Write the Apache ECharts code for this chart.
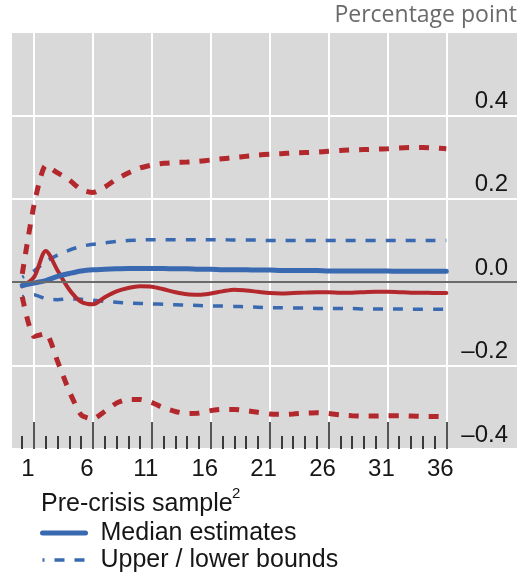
<!DOCTYPE html>
<html>
<head>
<meta charset="utf-8">
<script src="https://cdn.jsdelivr.net/npm/echarts@6/dist/echarts.min.js"></script>
<style>
  html, body { margin: 0; padding: 0; background: #ffffff; }
  #chart { width: 522px; height: 579px; }
</style>
</head>
<body>
<div id="chart"></div>
<script>
// Horizon (months after the shock)
const horizon = [0, 1, 2, 3, 4, 5, 6, 7, 8, 9, 10, 11, 12, 13, 14, 15, 16, 17, 18,
  19, 20, 21, 22, 23, 24, 25, 26, 27, 28, 29, 30, 31, 32, 33, 34, 35, 36];

// Pre-crisis sample: median and bounds
const preMedian = [-0.008, -0.002, 0.004, 0.014, 0.021, 0.027, 0.030, 0.031, 0.032, 0.033,
  0.033, 0.033, 0.033, 0.032, 0.032, 0.031, 0.031, 0.030, 0.030, 0.030, 0.029, 0.029,
  0.028, 0.028, 0.028, 0.028, 0.027, 0.027, 0.027, 0.027, 0.027, 0.027, 0.026, 0.026,
  0.026, 0.026, 0.026];
const preUpper = [0.012, 0.027, 0.050, 0.065, 0.077, 0.086, 0.091, 0.094, 0.098, 0.100,
  0.101, 0.102, 0.102, 0.102, 0.102, 0.102, 0.102, 0.102, 0.101, 0.101, 0.101, 0.100,
  0.100, 0.100, 0.100, 0.100, 0.100, 0.100, 0.100, 0.100, 0.100, 0.100, 0.100, 0.100,
  0.100, 0.100, 0.100];
const preLower = [-0.035, -0.030, -0.040, -0.042, -0.040, -0.041, -0.043, -0.046, -0.048,
  -0.050, -0.051, -0.052, -0.053, -0.054, -0.055, -0.056, -0.057, -0.057, -0.058, -0.059,
  -0.060, -0.061, -0.061, -0.062, -0.062, -0.063, -0.063, -0.063, -0.063, -0.064, -0.064,
  -0.064, -0.064, -0.065, -0.065, -0.065, -0.065];

// Post-crisis sample: median and bounds
const postMedian = [-0.010, 0.012, 0.075, 0.028, -0.018, -0.047, -0.053, -0.036, -0.022,
  -0.014, -0.010, -0.011, -0.017, -0.024, -0.029, -0.030, -0.027, -0.022, -0.018, -0.020,
  -0.023, -0.026, -0.027, -0.026, -0.025, -0.024, -0.024, -0.025, -0.025, -0.024, -0.023,
  -0.023, -0.024, -0.025, -0.025, -0.026, -0.026];
const postUpper = [0.020, 0.185, 0.280, 0.262, 0.245, 0.222, 0.215, 0.228, 0.247, 0.262,
  0.274, 0.281, 0.285, 0.287, 0.288, 0.290, 0.293, 0.296, 0.299, 0.302, 0.305, 0.307,
  0.308, 0.310, 0.311, 0.312, 0.314, 0.316, 0.317, 0.318, 0.319, 0.320, 0.322, 0.323,
  0.323, 0.322, 0.320];
const postLower = [-0.035, -0.130, -0.123, -0.190, -0.262, -0.318, -0.328, -0.310, -0.290,
  -0.281, -0.281, -0.289, -0.301, -0.310, -0.315, -0.314, -0.308, -0.305, -0.305, -0.308,
  -0.312, -0.316, -0.317, -0.316, -0.314, -0.313, -0.315, -0.318, -0.320, -0.321, -0.321,
  -0.320, -0.320, -0.321, -0.322, -0.322, -0.323];

// Axis ticks and labels
const xMinorTicks = horizon;
const xMajorTicks = [1, 6, 11, 16, 21, 26, 31, 36];
const yTickValues = [-0.4, -0.2, 0.0, 0.2, 0.4];
const yTickLabels = ['\u20130.4', '\u20130.2', '0.0', '0.2', '0.4'];

const BLUE = '#396ab1';
const RED = '#b3282d';
const TEXT = '#161616';
const FONT = '"Liberation Sans", Arial, sans-serif';

const pairs = (ys) => horizon.map((x, i) => [x, ys[i]]);

const xBase = {
  type: 'value', min: -0.87, max: 42, position: 'bottom', gridIndex: 0,
  axisLine: { show: false, onZero: false },
  splitLine: { show: false }
};

const chart = echarts.init(document.getElementById('chart'), null, { renderer: 'canvas' });

chart.setOption({
  animation: false,
  backgroundColor: '#ffffff',
  title: [
    {
      text: 'Percentage point',
      right: 5, top: 4, padding: 0,
      textStyle: { fontFamily: '"Open Sans", sans-serif', fontSize: 23, fontWeight: 'normal', color: '#6a6a6a' }
    },
    {
      text: 'Pre-crisis sample',
      left: 41, top: 491, padding: 0,
      textStyle: { fontFamily: FONT, fontSize: 25, fontWeight: 'normal', color: TEXT, lineHeight: 26 }
    },
    {
      // footnote marker
      text: '2',
      left: 232, top: 486, padding: 0,
      textStyle: { fontFamily: FONT, fontSize: 15, fontWeight: 'normal', color: TEXT, lineHeight: 16 }
    }
  ],
  legend: {
    data: ['Median estimates', 'Upper / lower bounds'],
    orient: 'vertical',
    left: 40, top: 520, padding: 0,
    itemWidth: 43, itemHeight: 10, itemGap: 1,
    selectedMode: false,
    itemStyle: { opacity: 0 },
    lineStyle: { width: 'inherit' },
    textStyle: { fontFamily: FONT, fontSize: 25, color: TEXT, lineHeight: 26, padding: [0, 0, 0, 10] }
  },
  grid: {
    left: 12, right: 5, top: 32, bottom: 130,
    show: true, backgroundColor: '#d9d9d9', borderWidth: 0
  },
  xAxis: [
    // vertical white gridlines
    Object.assign({}, xBase, {
      z: 0,
      axisTick: { show: false, customValues: xMajorTicks },
      axisLabel: { show: false, customValues: xMajorTicks },
      splitLine: { show: true, lineStyle: { color: '#ffffff', width: 2 } }
    }),
    // monthly ticks and labels
    Object.assign({}, xBase, {
      z: 1,
      axisTick: { show: true, inside: true, length: 13, customValues: xMinorTicks,
        lineStyle: { color: '#3a3a3a', width: 2 } },
      axisLabel: { show: true, customValues: xMajorTicks, margin: 8,
        fontFamily: FONT, fontSize: 24, color: TEXT, padding: [0, 12, 0, 0] }
    }),
    // five-month ticks
    Object.assign({}, xBase, {
      z: 1,
      axisTick: { show: true, inside: true, length: 27, customValues: xMajorTicks,
        lineStyle: { color: '#555555', width: 2 } },
      axisLabel: { show: false, customValues: xMajorTicks }
    })
  ],
  yAxis: {
    type: 'value', min: -0.4, max: 0.6, interval: 0.2, position: 'right',
    axisLine: { show: false }, axisTick: { show: false },
    splitLine: { show: true, lineStyle: { color: '#ffffff', width: 2 } },
    axisLabel: {
      inside: true, margin: 9, align: 'right', verticalAlign: 'bottom',
      lineHeight: 24, padding: [0, 0, 2, 0],
      fontFamily: FONT, fontSize: 24, color: TEXT,
      formatter: (v) => {
        const i = yTickValues.findIndex((t) => Math.abs(t - v) < 1e-6);
        return i >= 0 ? yTickLabels[i] : '';
      }
    }
  },
  series: [
    {
      name: 'Upper / lower bounds', type: 'line', xAxisIndex: 0,
      data: pairs(preUpper), showSymbol: false, symbol: 'none', smooth: 0.2,
      lineStyle: { color: BLUE, width: 3.5, type: [10, 10], dashOffset: 8 },
      itemStyle: { color: BLUE },
      markLine: {
        silent: true, symbol: 'none', label: { show: false },
        lineStyle: { color: '#6a6a6a', width: 2, type: 'solid' },
        data: [{ yAxis: 0 }]
      }
    },
    {
      name: 'Upper / lower bounds', type: 'line', xAxisIndex: 0,
      data: pairs(preLower), showSymbol: false, symbol: 'none', smooth: 0.2,
      lineStyle: { color: BLUE, width: 3.5, type: [10, 10], dashOffset: 8 },
      itemStyle: { color: BLUE }
    },
    {
      name: 'Post-crisis upper bound', type: 'line', xAxisIndex: 0,
      data: pairs(postUpper), showSymbol: false, symbol: 'none', smooth: 0.2,
      lineStyle: { color: RED, width: 5, type: [10, 10] },
      itemStyle: { color: RED }
    },
    {
      name: 'Post-crisis lower bound', type: 'line', xAxisIndex: 0,
      data: pairs(postLower), showSymbol: false, symbol: 'none', smooth: 0.2,
      lineStyle: { color: RED, width: 5, type: [10, 10] },
      itemStyle: { color: RED }
    },
    {
      name: 'Post-crisis median', type: 'line', xAxisIndex: 0,
      data: pairs(postMedian), showSymbol: false, symbol: 'none', smooth: 0.3,
      lineStyle: { color: RED, width: 4, cap: 'round' },
      itemStyle: { color: RED }
    },
    {
      name: 'Median estimates', type: 'line', xAxisIndex: 0,
      data: pairs(preMedian), showSymbol: false, symbol: 'none', smooth: 0.3,
      lineStyle: { color: BLUE, width: 5, cap: 'round' },
      itemStyle: { color: BLUE }
    }
  ]
});
</script>
</body>
</html>
